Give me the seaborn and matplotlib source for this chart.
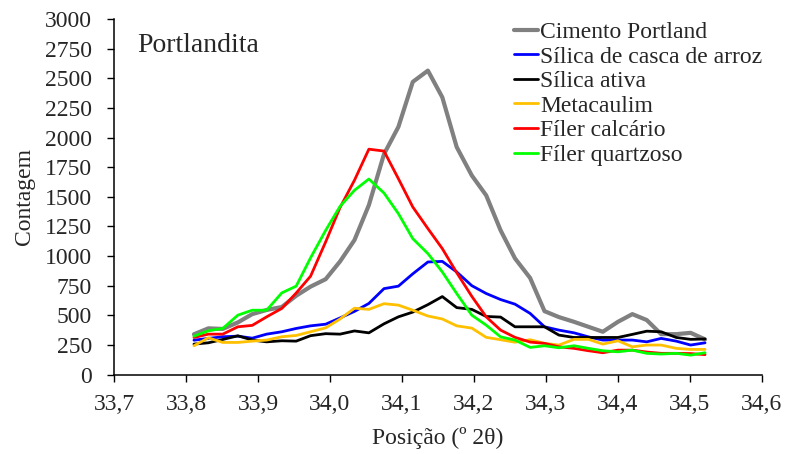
import pandas as pd
import matplotlib
matplotlib.use("Agg")
import matplotlib.pyplot as plt
import seaborn as sns

# ===== DATA =====
posicao = [33.811, 33.831, 33.851, 33.872, 33.892, 33.912, 33.933, 33.953, 33.973,
           33.994, 34.014, 34.034, 34.054, 34.075, 34.095, 34.115, 34.136, 34.156,
           34.176, 34.197, 34.217, 34.237, 34.257, 34.278, 34.298, 34.318, 34.339,
           34.359, 34.379, 34.400, 34.420, 34.440, 34.460, 34.481, 34.501, 34.521]

cimento_portland = [340, 390, 385, 440, 510, 545, 570, 665, 742, 805, 955, 1135,
                    1430, 1860, 2090, 2470, 2565, 2340, 1920, 1680, 1512, 1217, 980, 815,
                    535, 485, 445, 403, 361, 445, 510, 460, 341, 341, 352, 297]
silica_casca_arroz = [290, 305, 319, 324, 307, 341, 361, 389, 411, 425, 478, 533,
                      600, 725, 746, 850, 950, 955, 866, 750, 684, 633, 594, 516,
                      403, 375, 352, 318, 291, 291, 291, 276, 305, 282, 249, 268]
silica_ativa = [257, 268, 296, 327, 291, 276, 285, 282, 328, 345, 341, 368,
                352, 428, 487, 527, 590, 658, 565, 550, 490, 485, 403, 403,
                403, 333, 313, 313, 313, 313, 339, 366, 361, 313, 297, 300]
metacaulim = [243, 310, 271, 271, 282, 291, 319, 330, 361, 394, 469, 560,
              550, 598, 586, 543, 494, 469, 411, 392, 314, 294, 273, 294,
              263, 249, 297, 297, 257, 285, 234, 249, 249, 221, 212, 212]
filer_calcario = [313, 341, 341, 403, 415, 487, 558, 688, 830, 1120, 1410, 1640,
                  1902, 1886, 1653, 1414, 1232, 1063, 860, 660, 487, 375, 314, 274,
                  263, 234, 221, 201, 184, 206, 206, 190, 179, 179, 177, 168]
filer_quartzoso = [324, 369, 389, 501, 543, 543, 689, 746, 985, 1217, 1420, 1555,
                   1650, 1532, 1358, 1147, 1021, 866, 684, 501, 417, 318, 291, 229,
                   243, 226, 243, 221, 201, 192, 206, 179, 173, 179, 164, 184]

series_names = ["Cimento Portland", "Sílica de casca de arroz", "Sílica ativa",
                "Metacaulim", "Fíler calcário", "Fíler quartzoso"]
series_values = [cimento_portland, silica_casca_arroz, silica_ativa,
                 metacaulim, filer_calcario, filer_quartzoso]
colors = ["#808080", "#0000FF", "#000000", "#FFC000", "#FF0000", "#00FF00"]
widths = [3.0, 2.0, 2.0, 2.0, 2.0, 2.0]

# long format table for seaborn
df = pd.concat(
    [pd.DataFrame({"Posicao": posicao, "Contagem": v, "Amostra": n})
     for n, v in zip(series_names, series_values)],
    ignore_index=True,
)

# ===== PLOT =====
sns.set_style("ticks")
plt.rcParams["font.family"] = ["Liberation Serif", "DejaVu Serif"]

fig, ax = plt.subplots(figsize=(7.92, 4.54), dpi=100)
fig.subplots_adjust(left=0.144, right=0.962, top=0.958, bottom=0.175)

sns.lineplot(data=df, x="Posicao", y="Contagem", hue="Amostra",
             hue_order=series_names, palette=colors, ax=ax, legend=False)
for line, w in zip(ax.get_lines(), widths):
    line.set_linewidth(w)

ax.set_xlim(33.7, 34.6)
ax.set_ylim(0, 3000)
ax.set_xticks([33.7 + 0.1 * i for i in range(10)])
ax.set_xticklabels([f"{33.7 + 0.1 * i:.1f}".replace(".", ",") for i in range(10)])
ax.set_yticks(range(0, 3001, 250))
ax.tick_params(axis="both", labelsize=17, length=5, width=1, color="black",
               direction="out")
ax.tick_params(axis="x", pad=9)
ax.tick_params(axis="y", pad=11)
sns.despine(ax=ax)
for s in ["left", "bottom"]:
    ax.spines[s].set_linewidth(1.1)
    ax.spines[s].set_color("black")

ax.set_xlabel("Posição (º 2θ)", fontsize=17, labelpad=9)
ax.set_ylabel("Contagem", fontsize=17, labelpad=7)
ax.text(0.036, 0.925, "Portlandita", transform=ax.transAxes, fontsize=20,
        va="center", ha="left")

handles = [plt.Line2D([], [], color=c, lw=w) for c, w in zip(colors, widths)]
ax.legend(handles, series_names, loc="upper left", bbox_to_anchor=(0.603, 1.02),
          frameon=False, fontsize=17, handlelength=1.0, handletextpad=0.1,
          labelspacing=0.13, borderaxespad=0)

fig.savefig("out.png", dpi=100)
